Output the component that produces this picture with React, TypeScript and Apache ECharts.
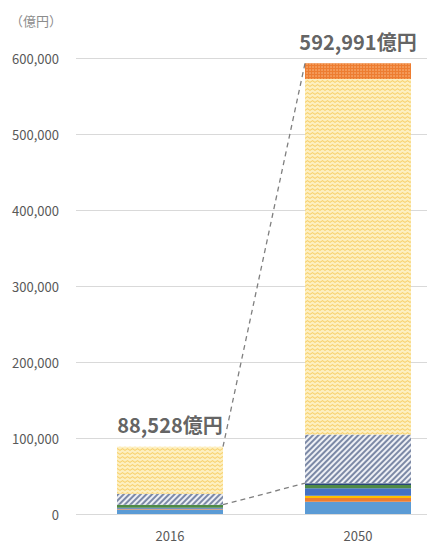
import React, { useEffect, useRef } from "react";
import * as echarts from "echarts";

const categories = ["2016", "2050"];
const yTicks = [0, 100000, 200000, 300000, 400000, 500000, 600000];
const unitLabel = "（億円）";

const lightBlue = [6000, 16000];
const orange = [500, 5000];
const gold = [300, 3000];
const blue = [1500, 10000];
const green = [3500, 4000];
const navy = [500, 2500];
const hatched = [14500, 64000];
const zigzag = [61728, 467891];
const topOrange = [0, 20600];

const segments = [lightBlue, orange, gold, blue, green, navy, hatched, zigzag, topOrange];
const segmentNames = ["区分A", "区分B", "区分C", "区分D", "区分E", "区分F", "区分G", "区分H", "区分I"];

const BAR_W = 106;

export default function App() {
  const ref = useRef<HTMLDivElement>(null);
  useEffect(() => {
    document.body.style.margin = "0";
    document.body.style.overflow = "hidden";
    const chart = echarts.init(ref.current!, null, { renderer: "svg" });
    const totals = categories.map((_, i) => segments.reduce((s, a) => s + a[i], 0));
    const lowerStack = categories.map((_, i) => segments.slice(0, 6).reduce((s, a) => s + a[i], 0));
    const fmt = (v: number) => v.toLocaleString("en-US");

    const solid = (color: string) => ({ color });
    const styles: any[] = [
      solid("#5B9BD5"),
      solid("#ED7D31"),
      solid("#FFC000"),
      solid("#4472C4"),
      solid("#4E8A45"),
      solid("#264478"),
      {
        color: "#eef0f5",
        decal: {
          symbol: "rect",
          symbolSize: 1,
          color: "#7c89a6",
          dashArrayX: [1, 0],
          dashArrayY: [1.3, 1.5],
          rotation: -Math.PI / 4,
        },
      },
      {
        color: "#fdefc0",
        decal: {
          symbol: "path://M0,3 L3,0 L6,3 L6,5 L3,2 L0,5 Z",
          symbolSize: 1,
          symbolKeepAspect: false,
          color: "#f8d16e",
          dashArrayX: [5, 0],
          dashArrayY: [3, 1],
        },
      },
      {
        color: "#ED7D31",
        decal: {
          symbol: "circle",
          symbolSize: 0.7,
          color: "rgba(255,205,160,0.85)",
          dashArrayX: [2, 1],
          dashArrayY: [2, 1],
        },
      },
    ];

    const barSeries = segments.map((arr, k) => ({
      type: "bar",
      name: segmentNames[k],
      stack: "total",
      barWidth: BAR_W,
      data: arr,
      itemStyle: styles[k],
      emphasis: { disabled: true },
    }));

    chart.setOption({
      animation: false,
      title: {
        text: unitLabel,
        left: 5,
        top: 9,
        textStyle: { fontSize: 13, fontWeight: "normal", color: "#8c8c8c", fontFamily: "Noto Sans CJK JP" },
      },
      grid: { left: 76, right: 0, top: 58, bottom: 33, containLabel: false },
      xAxis: {
        type: "category",
        data: categories,
        axisLine: { show: false },
        axisTick: { show: false },
        axisLabel: { margin: 15, fontSize: 13, color: "#595959", fontFamily: "Noto Sans CJK JP" },
      },
      yAxis: {
        type: "value",
        min: yTicks[0],
        max: yTicks[yTicks.length - 1],
        interval: yTicks[1] - yTicks[0],
        axisLine: { show: false },
        axisTick: { show: false },
        splitLine: { lineStyle: { color: "#d9d9d9", width: 1 } },
        axisLabel: {
          margin: 17,
          fontSize: 13,
          color: "#595959",
          fontFamily: "Noto Sans CJK JP",
          formatter: (v: number) => fmt(v),
        },
      },
      series: [
        ...barSeries,
        {
          type: "custom",
          name: "connectors",
          data: [
            [0, lowerStack[0], lowerStack[1]],
            [0, totals[0], totals[1]],
          ],
          encode: { x: 0, y: [1, 2] },
          z: 5,
          renderItem: (_p: any, api: any) => {
            const a = api.coord([0, api.value(1)]);
            const b = api.coord([1, api.value(2)]);
            return {
              type: "line",
              shape: { x1: a[0] + BAR_W / 2, y1: a[1], x2: b[0] - BAR_W / 2, y2: b[1] },
              style: { stroke: "#7f7f7f", lineWidth: 1.3, lineDash: [5, 4] },
            };
          },
        },
        {
          type: "scatter",
          name: "totals",
          symbolSize: 0,
          data: totals,
          z: 6,
          label: {
            show: true,
            position: "top",
            distance: 12,
            formatter: (p: any) => fmt(p.value) + "億円",
            fontSize: 20,
            fontWeight: "bold",
            color: "#3a3a3a",
            fontFamily: "Noto Sans CJK JP",
          },
        },
      ],
    });
    return () => chart.dispose();
  }, []);
  return <div ref={ref} style={{ width: 452, height: 547 }} />;
}
